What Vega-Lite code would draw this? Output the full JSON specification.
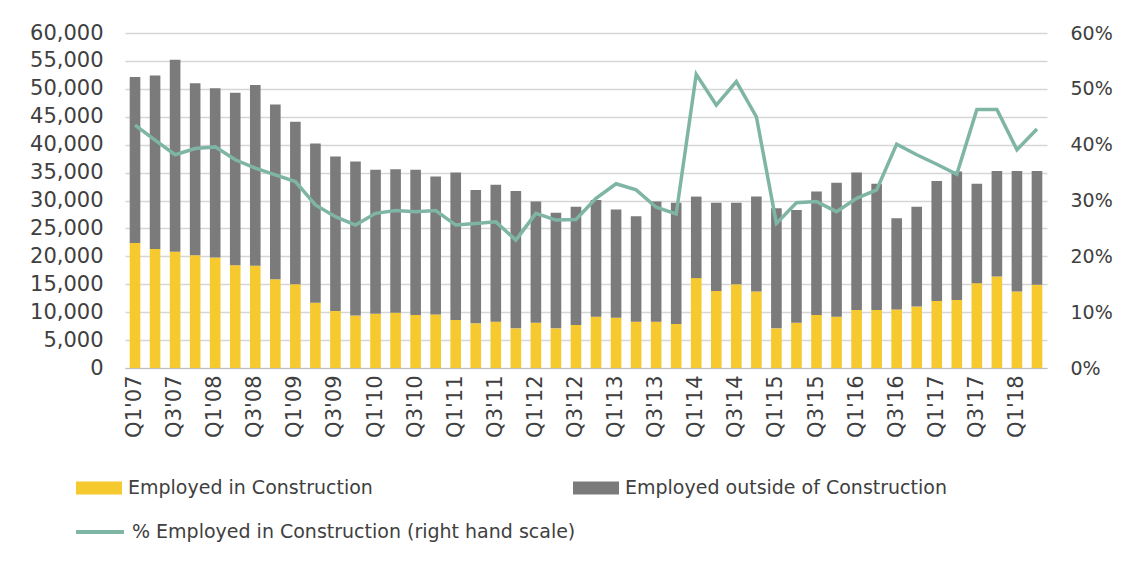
{
  "$schema": "https://vega.github.io/schema/vega-lite/v6.json",
  "width": 922,
  "height": 335,
  "autosize": {"type": "none"},
  "padding": {"left": 125, "top": 33, "right": 76, "bottom": 194},
  "background": "white",
  "config": {
    "font": "DejaVu Sans",
    "view": {"stroke": null},
    "axis": {"labelColor": "#404040", "labelFontSize": 19, "ticks": false, "title": null, "labelFont": "DejaVu Sans"},
    "legend": {"labelColor": "#404040", "labelFontSize": 19, "labelFont": "DejaVu Sans", "labelLimit": 800}
  },
  "data": {
    "values": [
      {"q": "Q1'07", "Employed in Construction": 22400, "Employed outside of Construction": 29700, "pct": 0.435},
      {"q": "Q2'07", "Employed in Construction": 21300, "Employed outside of Construction": 31100, "pct": 0.408},
      {"q": "Q3'07", "Employed in Construction": 20800, "Employed outside of Construction": 34400, "pct": 0.382},
      {"q": "Q4'07", "Employed in Construction": 20200, "Employed outside of Construction": 30800, "pct": 0.393},
      {"q": "Q1'08", "Employed in Construction": 19800, "Employed outside of Construction": 30300, "pct": 0.396},
      {"q": "Q2'08", "Employed in Construction": 18400, "Employed outside of Construction": 30900, "pct": 0.373},
      {"q": "Q3'08", "Employed in Construction": 18300, "Employed outside of Construction": 32400, "pct": 0.358},
      {"q": "Q4'08", "Employed in Construction": 15900, "Employed outside of Construction": 31300, "pct": 0.346},
      {"q": "Q1'09", "Employed in Construction": 15000, "Employed outside of Construction": 29100, "pct": 0.334},
      {"q": "Q2'09", "Employed in Construction": 11700, "Employed outside of Construction": 28500, "pct": 0.292},
      {"q": "Q3'09", "Employed in Construction": 10200, "Employed outside of Construction": 27700, "pct": 0.271},
      {"q": "Q4'09", "Employed in Construction": 9400, "Employed outside of Construction": 27600, "pct": 0.256},
      {"q": "Q1'10", "Employed in Construction": 9700, "Employed outside of Construction": 25800, "pct": 0.277},
      {"q": "Q2'10", "Employed in Construction": 9900, "Employed outside of Construction": 25700, "pct": 0.282},
      {"q": "Q3'10", "Employed in Construction": 9500, "Employed outside of Construction": 26000, "pct": 0.280},
      {"q": "Q4'10", "Employed in Construction": 9600, "Employed outside of Construction": 24700, "pct": 0.282},
      {"q": "Q1'11", "Employed in Construction": 8600, "Employed outside of Construction": 26400, "pct": 0.256},
      {"q": "Q2'11", "Employed in Construction": 8000, "Employed outside of Construction": 23900, "pct": 0.259},
      {"q": "Q3'11", "Employed in Construction": 8300, "Employed outside of Construction": 24500, "pct": 0.262},
      {"q": "Q4'11", "Employed in Construction": 7100, "Employed outside of Construction": 24600, "pct": 0.229},
      {"q": "Q1'12", "Employed in Construction": 8100, "Employed outside of Construction": 21700, "pct": 0.277},
      {"q": "Q2'12", "Employed in Construction": 7100, "Employed outside of Construction": 20700, "pct": 0.265},
      {"q": "Q3'12", "Employed in Construction": 7700, "Employed outside of Construction": 21200, "pct": 0.266},
      {"q": "Q4'12", "Employed in Construction": 9200, "Employed outside of Construction": 20900, "pct": 0.304},
      {"q": "Q1'13", "Employed in Construction": 9000, "Employed outside of Construction": 19400, "pct": 0.330},
      {"q": "Q2'13", "Employed in Construction": 8300, "Employed outside of Construction": 18900, "pct": 0.319},
      {"q": "Q3'13", "Employed in Construction": 8300, "Employed outside of Construction": 21500, "pct": 0.288},
      {"q": "Q4'13", "Employed in Construction": 7900, "Employed outside of Construction": 21700, "pct": 0.276},
      {"q": "Q1'14", "Employed in Construction": 16100, "Employed outside of Construction": 14600, "pct": 0.526},
      {"q": "Q2'14", "Employed in Construction": 13800, "Employed outside of Construction": 15800, "pct": 0.471},
      {"q": "Q3'14", "Employed in Construction": 15000, "Employed outside of Construction": 14600, "pct": 0.513},
      {"q": "Q4'14", "Employed in Construction": 13700, "Employed outside of Construction": 17000, "pct": 0.450},
      {"q": "Q1'15", "Employed in Construction": 7100, "Employed outside of Construction": 21500, "pct": 0.259},
      {"q": "Q2'15", "Employed in Construction": 8100, "Employed outside of Construction": 20200, "pct": 0.296},
      {"q": "Q3'15", "Employed in Construction": 9500, "Employed outside of Construction": 22100, "pct": 0.298},
      {"q": "Q4'15", "Employed in Construction": 9200, "Employed outside of Construction": 24000, "pct": 0.280},
      {"q": "Q1'16", "Employed in Construction": 10400, "Employed outside of Construction": 24600, "pct": 0.304},
      {"q": "Q2'16", "Employed in Construction": 10400, "Employed outside of Construction": 22600, "pct": 0.319},
      {"q": "Q3'16", "Employed in Construction": 10500, "Employed outside of Construction": 16300, "pct": 0.401},
      {"q": "Q4'16", "Employed in Construction": 11000, "Employed outside of Construction": 17900, "pct": 0.382},
      {"q": "Q1'17", "Employed in Construction": 12000, "Employed outside of Construction": 21500, "pct": 0.365},
      {"q": "Q2'17", "Employed in Construction": 12200, "Employed outside of Construction": 23000, "pct": 0.347},
      {"q": "Q3'17", "Employed in Construction": 15200, "Employed outside of Construction": 17800, "pct": 0.463},
      {"q": "Q4'17", "Employed in Construction": 16400, "Employed outside of Construction": 18900, "pct": 0.463},
      {"q": "Q1'18", "Employed in Construction": 13700, "Employed outside of Construction": 21600, "pct": 0.391},
      {"q": "Q2'18", "Employed in Construction": 14900, "Employed outside of Construction": 20400, "pct": 0.428}
    ]
  },
  "layer": [
    {
      "transform": [{"fold": ["Employed in Construction", "Employed outside of Construction"], "as": ["series", "value"]}],
      "mark": {"type": "bar"},
      "encoding": {
        "x": {
          "field": "q", "type": "ordinal", "sort": null,
          "scale": {"paddingInner": 0.47, "paddingOuter": 0.235},
          "axis": {
            "labelAngle": -90, "labelPadding": 7, "domainColor": "#bfbfbf", "domainWidth": 1, "labelFontSize": 21,
            "values": ["Q1'07","Q3'07","Q1'08","Q3'08","Q1'09","Q3'09","Q1'10","Q3'10","Q1'11","Q3'11","Q1'12","Q3'12","Q1'13","Q3'13","Q1'14","Q3'14","Q1'15","Q3'15","Q1'16","Q3'16","Q1'17","Q3'17","Q1'18"]
          }
        },
        "y": {
          "field": "value", "type": "quantitative", "stack": "zero",
          "scale": {"domain": [0, 60000], "nice": false},
          "axis": {
            "values": [0,5000,10000,15000,20000,25000,30000,35000,40000,45000,50000,55000,60000],
            "format": ",d", "grid": true, "gridColor": "#d6d6d6", "gridWidth": 1.5, "domain": false, "labelPadding": 22, "labelFontSize": 21
          }
        },
        "order": {"field": "series", "sort": "ascending"},
        "color": {
          "field": "series", "type": "nominal",
          "scale": {"domain": ["Employed in Construction", "Employed outside of Construction"], "range": ["#f6c92e", "#7b7b7b"]},
          "legend": {
            "title": null, "orient": "none", "legendX": -49, "legendY": 432, "direction": "horizontal", "columns": 2,
            "columnPadding": 200, "padding": 0, "labelOffset": 6,
            "symbolType": "M-1,-0.28H1V0.28H-1Z", "symbolSize": 2116, "symbolStrokeWidth": 0
          }
        }
      }
    },
    {
      "mark": {"type": "line", "strokeWidth": 3.5},
      "encoding": {
        "x": {"field": "q", "type": "ordinal", "sort": null},
        "y": {
          "field": "pct", "type": "quantitative",
          "scale": {"domain": [0, 0.6], "nice": false},
          "axis": {"orient": "right", "values": [0,0.1,0.2,0.3,0.4,0.5,0.6], "format": ".0%", "grid": false, "domain": false, "labelPadding": 23}
        },
        "stroke": {
          "datum": "% Employed in Construction (right hand scale)", "type": "nominal",
          "scale": {"range": ["#7fb5a5"]},
          "legend": {
            "title": null, "orient": "none", "legendX": -51, "legendY": 473, "padding": 0, "labelOffset": 6,
            "symbolType": "stroke", "symbolSize": 2304, "symbolStrokeWidth": 4
          }
        }
      }
    }
  ],
  "resolve": {"scale": {"y": "independent"}}
}
